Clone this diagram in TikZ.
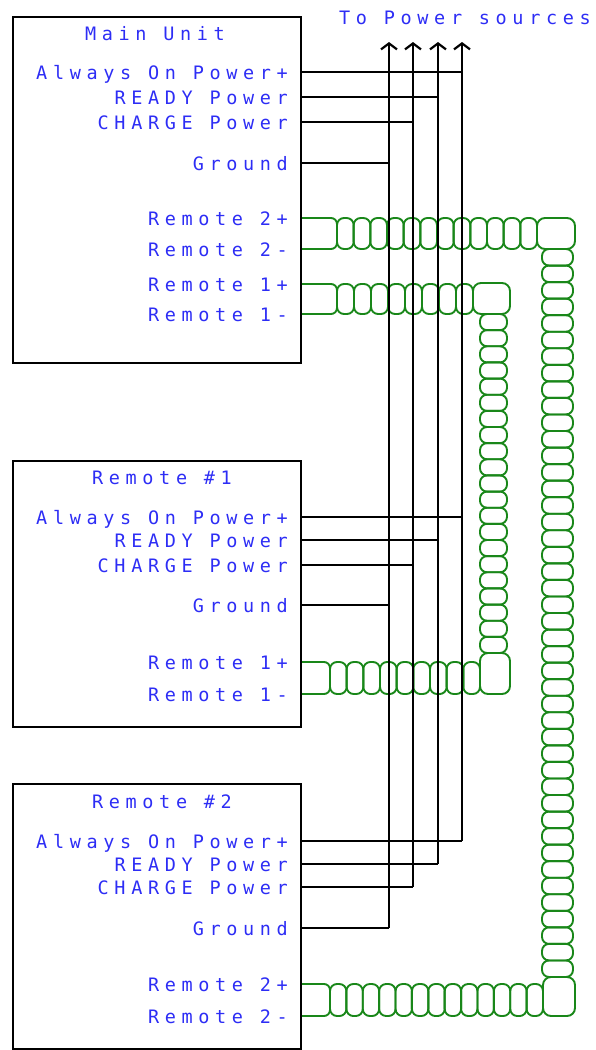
\documentclass[tikz,border=0pt]{standalone}
\usepackage{fontspec}
\usetikzlibrary{arrows.meta}
\newfontfamily\lblfont{DejaVu Sans Mono}[LetterSpace=30.5]
\definecolor{txtblue}{RGB}{45,45,245}
\definecolor{wiregreen}{RGB}{25,135,25}
\tikzset{
  unitbox/.style={draw=black, line width=2.2pt, minimum width=288pt, anchor=north west, inner sep=0pt},
  lbl/.style={font=\lblfont\fontsize{18.5}{20}\selectfont, text=txtblue, inner sep=0pt, anchor=base east},
  ttl/.style={font=\lblfont\fontsize{18.5}{20}\selectfont, text=txtblue, inner sep=0pt, anchor=base},
  wire/.style={line width=2.2pt, draw=black},
  tw/.style={draw=wiregreen, line width=1.9pt},
  cornerbox/.style={tw, rounded corners=8pt},
}
% horizontal chain: x0, x1, ytop, ybot, n
\newcommand\hchain[5]{%
  \pgfmathsetmacro\chw{(#2-#1)/#5}%
  \foreach \i in {1,...,#5}{%
    \draw[tw, rounded corners=7pt] ({#1+(\i-1)*\chw},#3) rectangle ({#1+\i*\chw},#4);}%
}
% vertical chain: y0, y1, xleft, xright, n
\newcommand\vchain[5]{%
  \pgfmathsetmacro\chh{(#2-#1)/#5}%
  \foreach \i in {1,...,#5}{%
    \draw[tw, rounded corners=7pt] (#3,{#1+(\i-1)*\chh}) rectangle (#4,{#1+\i*\chh});}%
}
% D-shaped cap: xc, ytop, ybot
\newcommand\dcap[3]{%
  \draw[tw, rounded corners=6pt] (300,#2) -- (#1,#2) -- (#1,#3) -- (300,#3);%
}
\begin{document}
\begin{tikzpicture}[x=1pt,y=-1pt]
\useasboundingbox (0,0) rectangle (595,1050);

% ---------- twisted pair 2 ----------
\dcap{337}{218}{249}
\hchain{337}{537}{218}{249}{12}
\draw[cornerbox] (537,218) rectangle (575,249);
\vchain{249}{977}{542}{573}{44}
\draw[cornerbox] (543,977) rectangle (575,1016);
\hchain{330}{543}{984}{1016}{13}
\dcap{330}{984}{1016}

% ---------- twisted pair 1 ----------
\dcap{337}{284}{314}
\hchain{337}{473}{284}{314}{8}
\draw[cornerbox] (473,283) rectangle (510,314);
\vchain{314}{653}{480}{507}{21}
\draw[cornerbox] (480,653) rectangle (510,694);
\hchain{330}{480}{662}{694}{9}
\dcap{330}{662}{694}

% ---------- power wires ----------
\coordinate (tG) at (389,42);
\coordinate (tC) at (413,42);
\coordinate (tR) at (438,42);
\coordinate (tA) at (462,42);
\draw[wire, -{Straight Barb[length=6pt,width=16pt]}] (389,928) -- (tG);
\draw[wire, -{Straight Barb[length=6pt,width=16pt]}] (413,887) -- (tC);
\draw[wire, -{Straight Barb[length=6pt,width=16pt]}] (438,864) -- (tR);
\draw[wire, -{Straight Barb[length=6pt,width=16pt]}] (462,841) -- (tA);

\foreach \ya/\yr/\yc/\yg in {72/97/122/163, 517/540/565/605, 841/864/887/928}{
  \draw[wire] (300,\ya) -- (462,\ya);
  \draw[wire] (300,\yr) -- (438,\yr);
  \draw[wire] (300,\yc) -- (413,\yc);
  \draw[wire] (300,\yg) -- (389,\yg);
}

% ---------- boxes ----------
\node[unitbox, minimum height=346pt] (main) at (12,16) {};
\node[unitbox, minimum height=266pt] (rem1) at (12,460) {};
\node[unitbox, minimum height=265pt] (rem2) at (12,783) {};

% ---------- labels (baseline = wire y + 7) ----------
\node[lbl, anchor=base west] (top) at (339,24) {To Power sources};

\node[ttl] (mT) at (155,40) {Main Unit};
\node[lbl] (mA) at (288,79) {Always On Power+};
\node[lbl] (mR) at (288,104) {READY Power};
\node[lbl] (mC) at (288,129) {CHARGE Power};
\node[lbl] (mG) at (288,170) {Ground};
\node[lbl] (m2p) at (288,225) {Remote 2+};
\node[lbl] (m2m) at (288,256) {Remote 2-};
\node[lbl] (m1p) at (288,291) {Remote 1+};
\node[lbl] (m1m) at (288,321) {Remote 1-};

\node[ttl] (aT) at (162,484) {Remote \#1};
\node[lbl] (aA) at (288,524) {Always On Power+};
\node[lbl] (aR) at (288,547) {READY Power};
\node[lbl] (aC) at (288,572) {CHARGE Power};
\node[lbl] (aG) at (288,612) {Ground};
\node[lbl] (a1p) at (288,669) {Remote 1+};
\node[lbl] (a1m) at (288,701) {Remote 1-};

\node[ttl] (bT) at (162,808) {Remote \#2};
\node[lbl] (bA) at (288,848) {Always On Power+};
\node[lbl] (bR) at (288,871) {READY Power};
\node[lbl] (bC) at (288,894) {CHARGE Power};
\node[lbl] (bG) at (288,935) {Ground};
\node[lbl] (b2p) at (288,991) {Remote 2+};
\node[lbl] (b2m) at (288,1023) {Remote 2-};
\end{tikzpicture}
\end{document}
